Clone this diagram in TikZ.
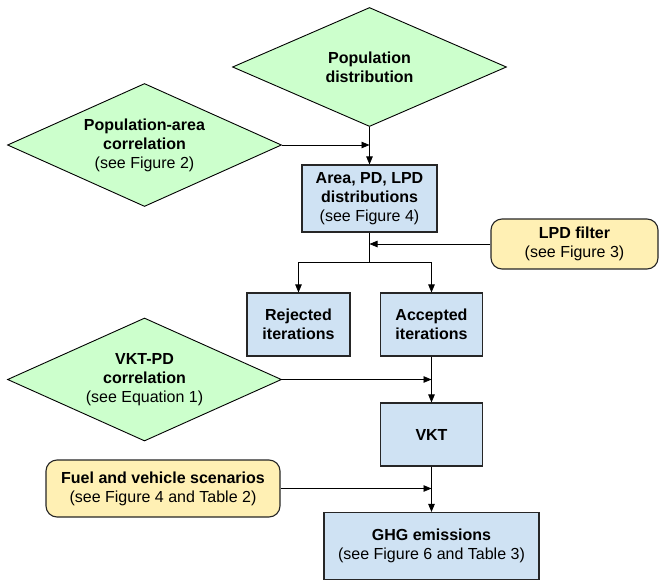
\documentclass[tikz,border=0pt]{standalone}
\usepackage{fontspec}
\setmainfont{Liberation Sans}
\usetikzlibrary{shapes.geometric,arrows.meta}
\definecolor{dgreen}{RGB}{204,255,204}
\definecolor{bbox}{RGB}{207,226,243}
\definecolor{ybox}{RGB}{255,240,180}
\tikzset{
  txt/.style={font={\fontsize{16}{19}\selectfont}, align=center, text=black},
  dia/.style={txt, shape=diamond, draw=black, line width=0.9pt, fill=dgreen, inner sep=0pt, aspect=2.2, minimum width=274pt},
  bluebox/.style={txt, rectangle, draw=black!85, line width=1.1pt, fill=bbox, inner sep=0pt},
  yelbox/.style={txt, rectangle, rounded corners=11pt, draw=black!85, line width=1.1pt, fill=ybox, inner sep=0pt},
  conn/.style={draw=black, line width=0.8pt},
  arr/.style={conn, -{Triangle[length=8pt,width=6.5pt]}}
}
\begin{document}
\begin{tikzpicture}[x=1pt,y=-1pt]
\useasboundingbox (0,0) rectangle (659,581);
% diamonds
\node[dia, minimum height=119pt] (popdist) at (369.5,67) {\textbf{Population}\\\textbf{distribution}};
\node[dia, minimum height=123pt] (poparea) at (144.5,145) {\textbf{Population-area}\\\textbf{correlation}\\(see Figure 2)};
\node[dia, minimum height=123pt] (vktpd) at (144.5,379.5) {\textbf{VKT-PD}\\\textbf{correlation}\\(see Equation 1)};
% boxes
\node[bluebox, minimum width=135pt, minimum height=67pt] (area) at (369.5,198.5) {\textbf{Area, PD, LPD}\\\textbf{distributions}\\(see Figure 4)};
\node[yelbox, minimum width=167pt, minimum height=50pt] (lpd) at (574.5,244) {\textbf{LPD filter}\\(see Figure 3)};
\node[bluebox, minimum width=103pt, minimum height=63pt] (rej) at (298.5,324.5) {\textbf{Rejected}\\\textbf{iterations}};
\node[bluebox, minimum width=102pt, minimum height=63pt] (acc) at (431.5,324.5) {\textbf{Accepted}\\\textbf{iterations}};
\node[bluebox, minimum width=102pt, minimum height=63pt] (vkt) at (431.5,434.5) {\textbf{VKT}};
\node[yelbox, minimum width=234pt, minimum height=57pt] (fuel) at (163,488.5) {\textbf{Fuel and vehicle scenarios}\\(see Figure 4 and Table 2)};
\node[bluebox, minimum width=215pt, minimum height=67pt] (ghg) at (431.5,546) {\textbf{GHG emissions}\\(see Figure 6 and Table 3)};
% connectors
\coordinate (split) at (369.5,262.5);
\draw[arr] (popdist.south) -- (area.north);
\draw[arr] (poparea.east) -- (area.north |- poparea.east);
\draw[conn] (area.south) -- (split);
\draw[arr] (split) -| (rej.north);
\draw[arr] (split) -| (acc.north);
\draw[arr] (lpd.west) -- (area.south |- lpd.west);
\draw[arr] (acc.south) -- (vkt.north);
\draw[arr] (vktpd.east) -- (vkt.north |- vktpd.east);
\draw[arr] (vkt.south) -- (ghg.north);
\draw[arr] (fuel.east) -- (ghg.north |- fuel.east);
\end{tikzpicture}
\end{document}
